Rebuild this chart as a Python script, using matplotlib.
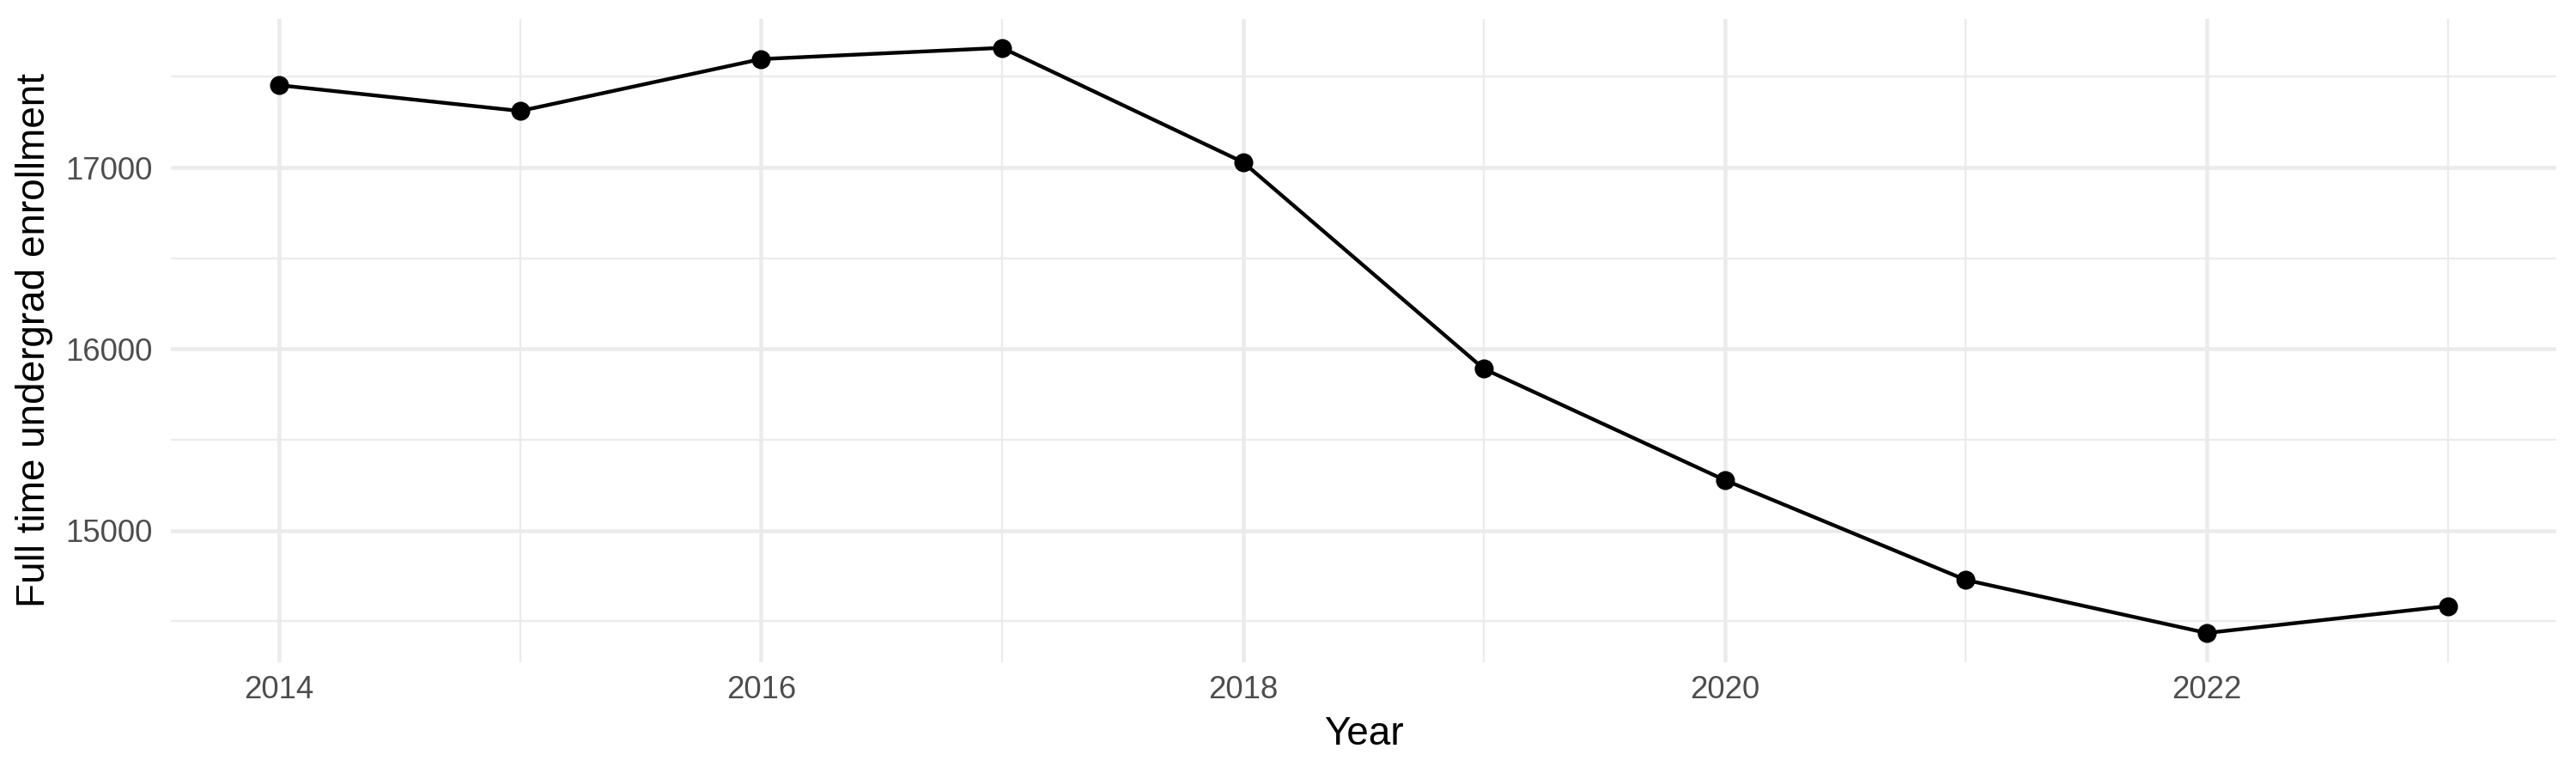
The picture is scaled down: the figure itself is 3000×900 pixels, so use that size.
import matplotlib
matplotlib.use('Agg')
import matplotlib.pyplot as plt
from matplotlib.ticker import MultipleLocator

plt.rcParams['font.family'] = ['Liberation Sans', 'DejaVu Sans']

years = [2014, 2015, 2016, 2017, 2018, 2019, 2020, 2021, 2022, 2023]
enrollment = [17454, 17312, 17598, 17660, 17030, 15891, 15278, 14728, 14436, 14584]

fig = plt.figure(figsize=(10, 3), dpi=300)
ax = fig.add_axes([0.0663, 0.1433, 0.926, 0.8327])

# ggplot-ish theme_minimal
for s in ax.spines.values():
    s.set_visible(False)
ax.set_facecolor('white')
ax.xaxis.set_major_locator(MultipleLocator(2))
ax.xaxis.set_minor_locator(MultipleLocator(1))
ax.yaxis.set_major_locator(MultipleLocator(1000))
ax.yaxis.set_minor_locator(MultipleLocator(500))
ax.grid(which='major', color='#EBEBEB', lw=1.1)
ax.grid(which='minor', color='#EBEBEB', lw=0.55)
ax.set_axisbelow(True)
ax.tick_params(which='both', length=0, labelsize=8.8, labelcolor='#4D4D4D')
ax.tick_params(axis='x', pad=3.5)
ax.tick_params(axis='y', pad=5)

ax.plot(years, enrollment, color='black', lw=1.05, marker='o', markersize=4.3, zorder=3)

pad_x = (max(years) - min(years)) * 0.05
pad_y = (max(enrollment) - min(enrollment)) * 0.05
ax.set_xlim(min(years) - pad_x, max(years) + pad_x)
ax.set_ylim(min(enrollment) - pad_y, max(enrollment) + pad_y)

ax.set_xlabel('Year', fontsize=11, labelpad=3)
ax.set_ylabel('Full time undergrad enrollment', fontsize=11, labelpad=3.5)

fig.savefig('out.png', dpi=300, facecolor='white')
